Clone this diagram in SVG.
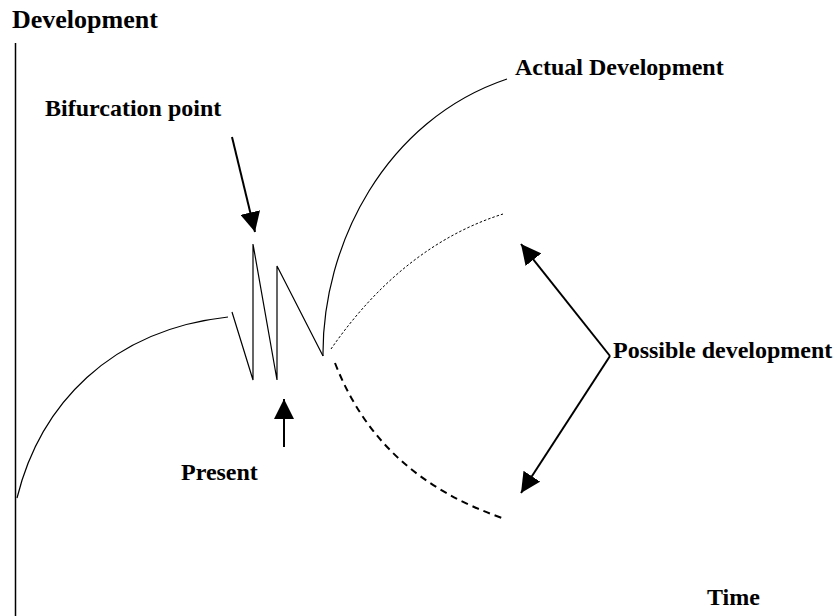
<svg xmlns="http://www.w3.org/2000/svg" width="838" height="616" viewBox="0 0 838 616">
  <style>
    .label { font-family: "Liberation Serif", "Times New Roman", serif; font-weight: bold; font-size: 24px; fill: #000; }
    .axis { stroke: #000; stroke-width: 1.5; fill: none; }
    .curve { stroke: #000; stroke-width: 1.2; fill: none; }
    .fine-dash { stroke: #000; stroke-width: 1; fill: none; stroke-dasharray: 2.5 2; }
    .bold-dash { stroke: #000; stroke-width: 2; fill: none; stroke-dasharray: 7 5; }
    .pointer { stroke: #000; stroke-width: 2; fill: none; marker-end: url(#head); }
  </style>
  <defs>
    <marker id="head" markerUnits="userSpaceOnUse" markerWidth="20" markerHeight="20" refX="20" refY="10" orient="auto" viewBox="0 0 20 20">
      <path d="M0,0 L20,10 L0,20 z" fill="#000"/>
    </marker>
  </defs>
  <rect width="838" height="616" fill="#fff"/>

  <!-- vertical development axis -->
  <g id="axis">
    <line class="axis" x1="15.5" y1="43" x2="15.5" y2="616"/>
  </g>

  <!-- growth before the present -->
  <g id="past-growth">
    <path class="curve" d="M17,498 C40,405 110,330 228,317"/>
  </g>

  <!-- oscillation around the bifurcation point -->
  <g id="bifurcation">
    <polyline class="curve" points="232,312 253,380 253,244 277,380 277,266 323,356"/>
  </g>

  <!-- branches leaving the bifurcation -->
  <g id="actual-development">
    <path class="curve" d="M323,356 C322,245 385,120 507,79"/>
  </g>
  <g id="possible-upper">
    <path class="fine-dash" d="M331,349 C365,300 420,240 503,214"/>
  </g>
  <g id="possible-lower">
    <path class="bold-dash" d="M335,363 C365,440 420,490 505,519"/>
  </g>

  <!-- labels -->
  <g id="label-development"><text class="label" x="12" y="28" style="font-size:26px">Development</text></g>
  <g id="label-bifurcation"><text class="label" x="45" y="116">Bifurcation point</text></g>
  <g id="label-actual"><text class="label" x="515" y="75">Actual Development</text></g>
  <g id="label-possible"><text class="label" x="613" y="358">Possible development</text></g>
  <g id="label-present"><text class="label" x="181" y="480">Present</text></g>
  <g id="label-time"><text class="label" x="707" y="605">Time</text></g>

  <!-- pointer arrows -->
  <g id="connectors">
    <line class="pointer" x1="232" y1="137" x2="255" y2="232"/>
    <line class="pointer" x1="284" y1="447" x2="284" y2="399"/>
    <line class="pointer" x1="610" y1="356" x2="521" y2="244"/>
    <line class="pointer" x1="610" y1="356" x2="521" y2="493"/>
  </g>
</svg>
